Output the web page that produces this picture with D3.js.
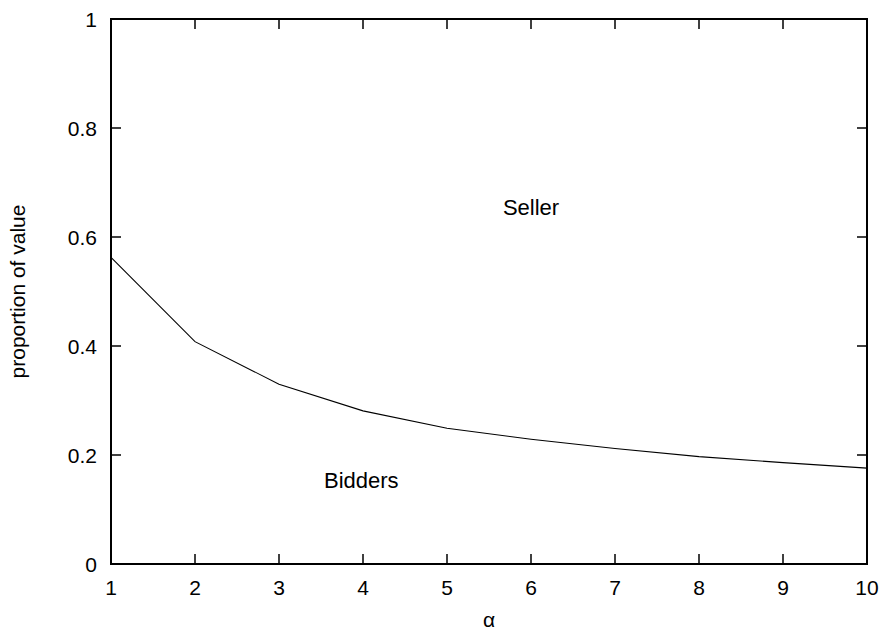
<!DOCTYPE html>
<html>
<head>
<meta charset="utf-8">
<script src="https://cdn.jsdelivr.net/npm/d3@7"></script>
<style>
  html, body { margin: 0; padding: 0; background: #fff; }
  svg { display: block; }
  text { font-family: "Liberation Sans", Arial, Helvetica, sans-serif; fill: #000; }
</style>
</head>
<body>
<svg id="chart" width="884" height="630"></svg>
<script>
const alphaValues = [1, 2, 3, 4, 5, 6, 7, 8, 9, 10];
const bidderShare = [0.5625, 0.408, 0.330, 0.281, 0.249, 0.229, 0.212, 0.197, 0.186, 0.176];
const xTicks = [1, 2, 3, 4, 5, 6, 7, 8, 9, 10];
const yTicks = [0, 0.2, 0.4, 0.6, 0.8, 1];
const regionLabels = [
  { text: "Seller", x: 6, y: 0.64 },
  { text: "Bidders", x: 3.98, y: 0.14 }
];
const xLabel = "\u03B1";
const yLabel = "proportion of value";

const W = 884, H = 630;
const m = { left: 111, right: W - 867, top: 19, bottom: H - 564 };
const svg = d3.select("#chart");

const x = d3.scaleLinear().domain([1, 10]).range([m.left, W - m.right]);
const y = d3.scaleLinear().domain([0, 1]).range([H - m.bottom, m.top]);

const fs = 21;
const tickLen = 10;

// tick marks (inward, mirrored)
const tg = svg.append("g").attr("stroke", "#000").attr("stroke-width", 1.5);
xTicks.forEach(t => {
  tg.append("line").attr("x1", x(t)).attr("x2", x(t)).attr("y1", y(0)).attr("y2", y(0) - tickLen);
  tg.append("line").attr("x1", x(t)).attr("x2", x(t)).attr("y1", y(1)).attr("y2", y(1) + tickLen);
});
yTicks.forEach(t => {
  tg.append("line").attr("x1", x(1)).attr("x2", x(1) + tickLen).attr("y1", y(t)).attr("y2", y(t));
  tg.append("line").attr("x1", x(10)).attr("x2", x(10) - tickLen).attr("y1", y(t)).attr("y2", y(t));
});

// frame
svg.append("rect")
  .attr("x", x(1)).attr("y", y(1))
  .attr("width", x(10) - x(1)).attr("height", y(0) - y(1))
  .attr("fill", "none").attr("stroke", "#000").attr("stroke-width", 2);

// tick labels
svg.append("g").selectAll("text").data(xTicks).join("text")
  .attr("x", d => x(d)).attr("y", 595)
  .attr("text-anchor", "middle").attr("font-size", fs)
  .text(d => d);
svg.append("g").selectAll("text").data(yTicks).join("text")
  .attr("x", 97).attr("y", d => y(d)).attr("dy", "0.36em")
  .attr("text-anchor", "end").attr("font-size", fs)
  .text(d => d3.format("~g")(d));

// data line
const line = d3.line().x((d, i) => x(alphaValues[i])).y(d => y(d));
svg.append("path").datum(bidderShare)
  .attr("d", line).attr("fill", "none").attr("stroke", "#000").attr("stroke-width", 1.1);

// region labels
svg.append("g").selectAll("text").data(regionLabels).join("text")
  .attr("x", d => x(d.x)).attr("y", d => y(d.y))
  .attr("text-anchor", "middle").attr("font-size", 22)
  .text(d => d.text);

// axis labels
svg.append("text").attr("x", (x(1) + x(10)) / 2).attr("y", 627)
  .attr("text-anchor", "middle").attr("font-size", fs).text(xLabel);
svg.append("text")
  .attr("transform", `translate(25,${(y(0) + y(1)) / 2}) rotate(-90)`)
  .attr("text-anchor", "middle").attr("font-size", fs).text(yLabel);
</script>
</body>
</html>
